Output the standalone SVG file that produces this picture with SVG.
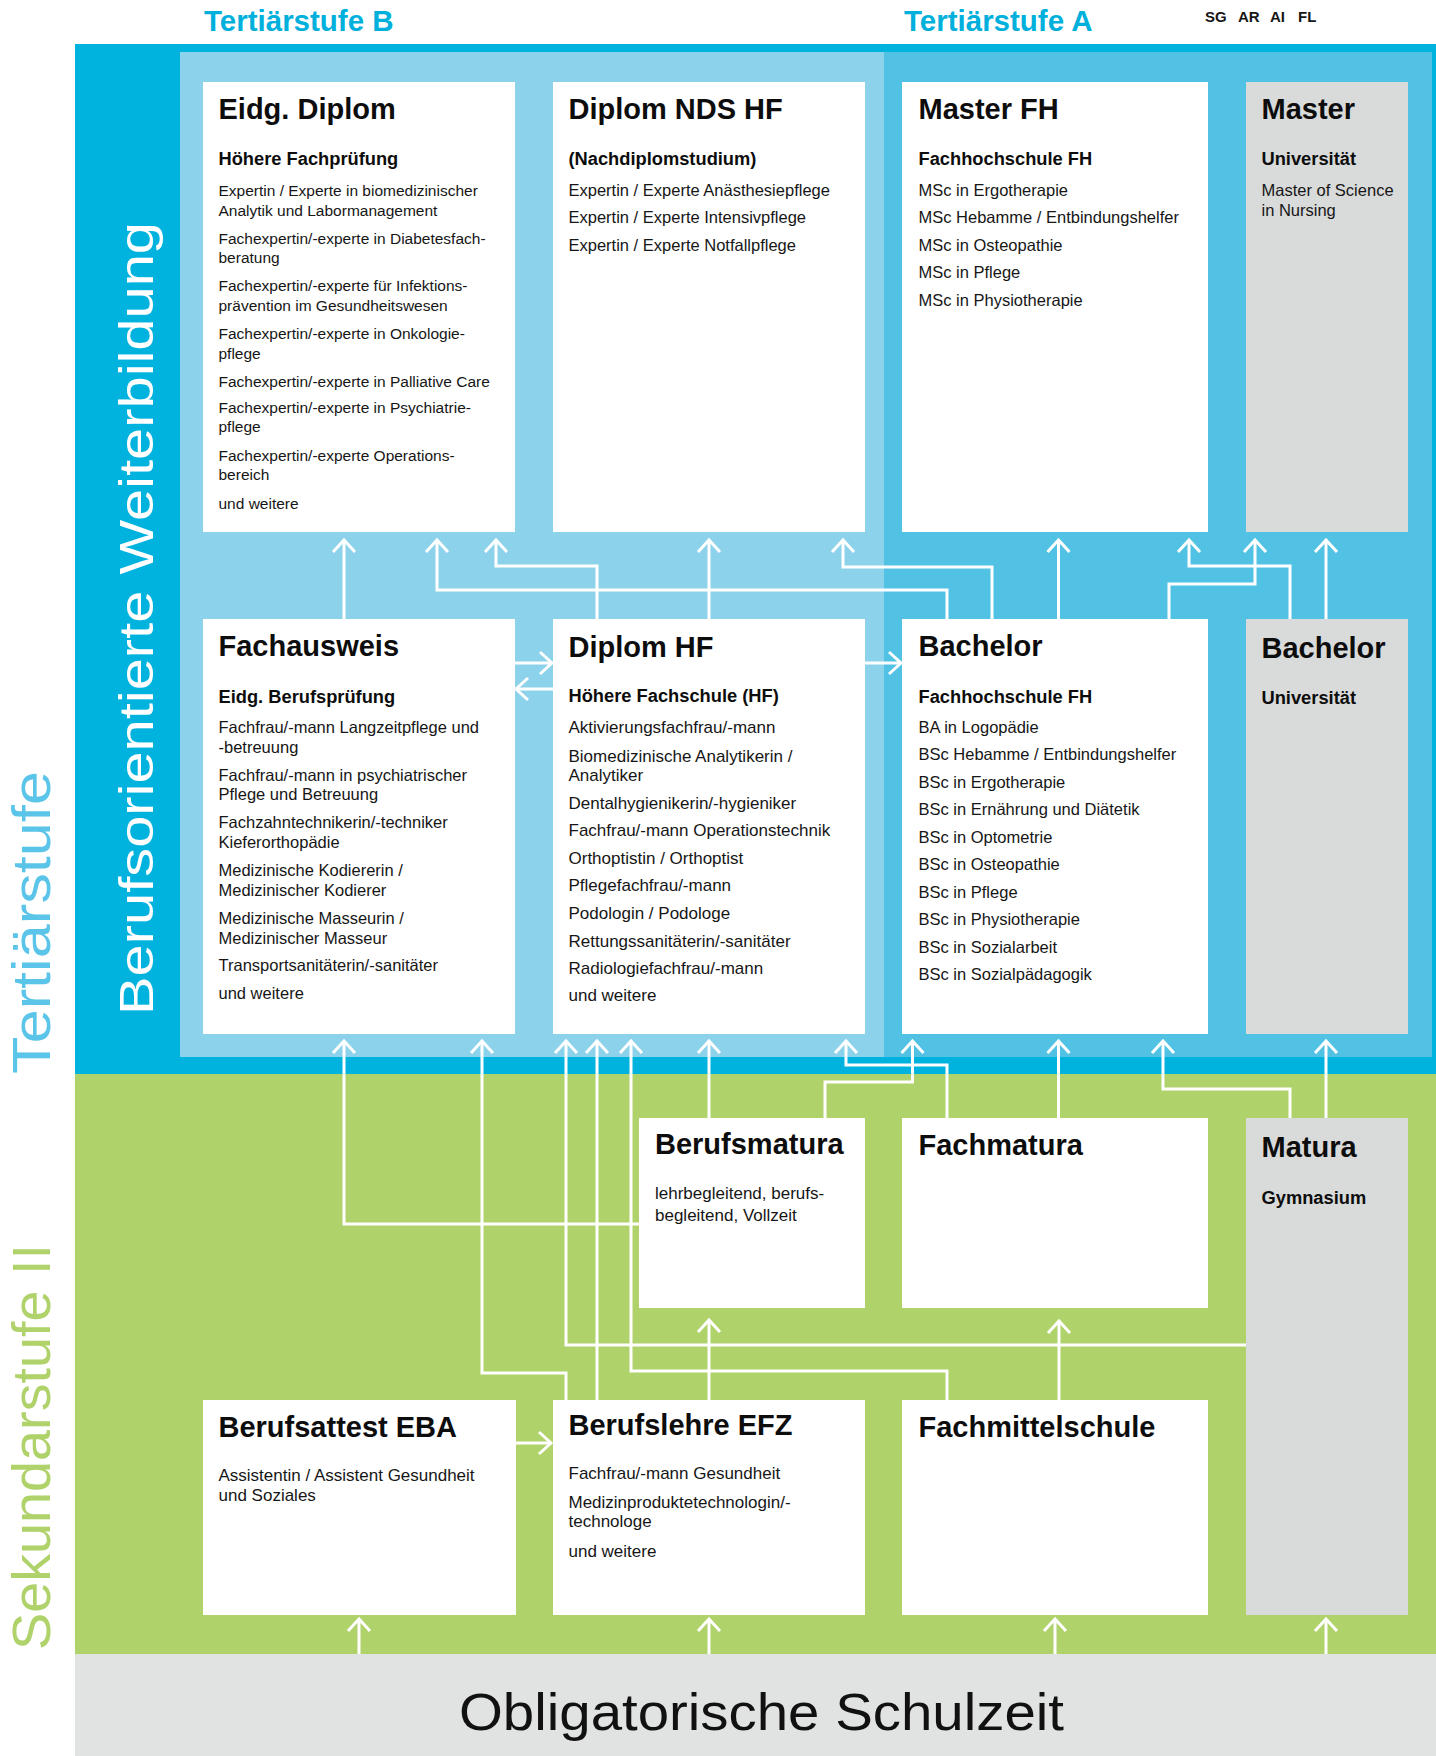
<svg xmlns="http://www.w3.org/2000/svg" width="1436" height="1756" viewBox="0 0 1436 1756">
<defs>
<style>
text{font-family:"Liberation Sans",Arial,sans-serif;fill:#161616}
.t{font-size:29px;font-weight:700;fill:#0d0d0d}
.s{font-size:18.3px;font-weight:700;fill:#0d0d0d}
.b{font-size:16.5px}
.b15{font-size:15.5px}
.b17{font-size:17px}
.box{fill:#ffffff}
.gbox{fill:#d9dada}
.hdr{font-size:29.5px;font-weight:700;fill:#00b0dc}
.c path{fill:none;stroke:#ffffff;stroke-width:3;marker-end:url(#ah)}
</style>
<marker id="ah" markerUnits="userSpaceOnUse" viewBox="-16 -14 22 28" refX="0" refY="0" markerWidth="22" markerHeight="28" orient="auto" overflow="visible">
<path d="M-12,-11 L0,0 L-12,11" fill="none" stroke="#ffffff" stroke-width="3"/>
</marker>
</defs>

<g id="bands">
<rect x="75" y="44" width="1361" height="1030" fill="#00b2de"/>
<rect x="180" y="52" width="704" height="1005" fill="#8dd2eb"/>
<rect x="884" y="52" width="548" height="1005" fill="#52c2e4"/>
<rect x="75" y="1074" width="1361" height="580" fill="#b0d26a"/>
<rect x="75" y="1654" width="1361" height="102" fill="#e1e3e2"/>
</g>

<g id="labels">
<text class="hdr" x="204" y="31">Tertiärstufe B</text>
<text class="hdr" x="904" y="31">Tertiärstufe A</text>
<text font-size="15" font-weight="700" y="22"><tspan x="1205">SG</tspan><tspan x="1238">AR</tspan><tspan x="1270">AI</tspan><tspan x="1298">FL</tspan></text>
<text transform="translate(50,1074) rotate(-90)" font-size="54" style="fill:#5bc5e9" textLength="303" lengthAdjust="spacingAndGlyphs">Tertiärstufe</text>
<text transform="translate(50,1650) rotate(-90)" font-size="54" style="fill:#b0d26a" textLength="406" lengthAdjust="spacingAndGlyphs">Sekundarstufe II</text>
<text transform="translate(153,1015) rotate(-90)" font-size="48" style="fill:#ffffff" textLength="793" lengthAdjust="spacingAndGlyphs">Berufsorientierte Weiterbildung</text>
<text x="761.5" y="1729.5" font-size="52" text-anchor="middle" textLength="605" lengthAdjust="spacingAndGlyphs" style="fill:#111">Obligatorische Schulzeit</text>
</g>

<g id="connectors" class="c">
<path d="M344,619 V540"/>
<path d="M947,619 V590 H437 V540"/>
<path d="M597,619 V566 H496 V540"/>
<path d="M709,619 V540"/>
<path d="M992,619 V567 H843 V540"/>
<path d="M1058.5,619 V540"/>
<path d="M1290,619 V566 H1189 V540"/>
<path d="M1169,619 V584 H1255 V540"/>
<path d="M1326,619 V540"/>
<path d="M515,663 H552"/>
<path d="M553,689 H516"/>
<path d="M865,663 H901"/>
<path d="M639,1224 H344 V1041"/>
<path d="M566,1400 V1373 H482 V1041"/>
<path d="M1246,1345 H566 V1041"/>
<path d="M597,1400 V1041"/>
<path d="M947,1400 V1371 H631 V1041"/>
<path d="M709,1118 V1041"/>
<path d="M947,1118 V1065 H846 V1041"/>
<path d="M825,1118 V1082 H912.5 V1041"/>
<path d="M1058.5,1118 V1041"/>
<path d="M1290,1118 V1089 H1163 V1041"/>
<path d="M1326,1118 V1041"/>
<path d="M709,1400 V1320"/>
<path d="M1059,1400 V1321"/>
<path d="M516,1443 H551"/>
<path d="M359,1654 V1619"/>
<path d="M709,1654 V1619"/>
<path d="M1055,1654 V1619"/>
<path d="M1326,1654 V1619"/>
</g>

<g id="eidg-diplom">
<rect class="box" x="203" y="82" width="312" height="450"/>
<text class="t" x="218.5" y="118.5" font-size="28">Eidg. Diplom</text>
<text class="s" x="218.5" y="165">Höhere Fachprüfung</text>
<text class="b15">
<tspan x="218.5" y="196">Expertin / Experte in biomedizinischer</tspan>
<tspan x="218.5" y="216">Analytik und Labormanagement</tspan>
<tspan x="218.5" y="243.5">Fachexpertin/-experte in Diabetesfach-</tspan>
<tspan x="218.5" y="263">beratung</tspan>
<tspan x="218.5" y="291">Fachexpertin/-experte für Infektions-</tspan>
<tspan x="218.5" y="310.5">prävention im Gesundheitswesen</tspan>
<tspan x="218.5" y="339">Fachexpertin/-experte in Onkologie-</tspan>
<tspan x="218.5" y="359">pflege</tspan>
<tspan x="218.5" y="386.5">Fachexpertin/-experte in Palliative Care</tspan>
<tspan x="218.5" y="412.5">Fachexpertin/-experte in Psychiatrie-</tspan>
<tspan x="218.5" y="432">pflege</tspan>
<tspan x="218.5" y="461">Fachexpertin/-experte Operations-</tspan>
<tspan x="218.5" y="480">bereich</tspan>
<tspan x="218.5" y="509">und weitere</tspan>
</text>
</g>

<g id="diplom-nds-hf">
<rect class="box" x="553" y="82" width="312" height="450"/>
<text class="t" x="568.5" y="118.5">Diplom NDS HF</text>
<text class="s" x="568.5" y="165">(Nachdiplomstudium)</text>
<text class="b">
<tspan x="568.5" y="196">Expertin / Experte Anästhesiepflege</tspan>
<tspan x="568.5" y="223">Expertin / Experte Intensivpflege</tspan>
<tspan x="568.5" y="250.5">Expertin / Experte Notfallpflege</tspan>
</text>
</g>

<g id="master-fh">
<rect class="box" x="902" y="82" width="306" height="450"/>
<text class="t" x="918.5" y="118.5">Master FH</text>
<text class="s" x="918.5" y="165">Fachhochschule FH</text>
<text class="b">
<tspan x="918.5" y="196">MSc in Ergotherapie</tspan>
<tspan x="918.5" y="223">MSc Hebamme / Entbindungshelfer</tspan>
<tspan x="918.5" y="250.5">MSc in Osteopathie</tspan>
<tspan x="918.5" y="278">MSc in Pflege</tspan>
<tspan x="918.5" y="305.5">MSc in Physiotherapie</tspan>
</text>
</g>

<g id="master-uni">
<rect class="gbox" x="1246" y="82" width="162" height="450"/>
<text class="t" x="1261.5" y="118.5">Master</text>
<text class="s" x="1261.5" y="165">Universität</text>
<text class="b">
<tspan x="1261.5" y="196">Master of Science</tspan>
<tspan x="1261.5" y="216">in Nursing</tspan>
</text>
</g>

<g id="fachausweis">
<rect class="box" x="203" y="619" width="312" height="415"/>
<text class="t" x="218.5" y="656">Fachausweis</text>
<text class="s" x="218.5" y="702.5">Eidg. Berufsprüfung</text>
<text class="b">
<tspan x="218.5" y="733">Fachfrau/-mann Langzeitpflege und</tspan>
<tspan x="218.5" y="752.5">-betreuung</tspan>
<tspan x="218.5" y="780.5">Fachfrau/-mann in psychiatrischer</tspan>
<tspan x="218.5" y="800">Pflege und Betreuung</tspan>
<tspan x="218.5" y="827.5">Fachzahntechnikerin/-techniker</tspan>
<tspan x="218.5" y="847.5">Kieferorthopädie</tspan>
<tspan x="218.5" y="875.5">Medizinische Kodiererin /</tspan>
<tspan x="218.5" y="895.5">Medizinischer Kodierer</tspan>
<tspan x="218.5" y="923.5">Medizinische Masseurin /</tspan>
<tspan x="218.5" y="943.5">Medizinischer Masseur</tspan>
<tspan x="218.5" y="970.5">Transportsanitäterin/-sanitäter</tspan>
<tspan x="218.5" y="998.5">und weitere</tspan>
</text>
</g>

<g id="diplom-hf">
<rect class="box" x="553" y="619" width="312" height="415"/>
<text class="t" x="568.5" y="656.5">Diplom HF</text>
<text class="s" x="568.5" y="701.5">Höhere Fachschule (HF)</text>
<text class="b17">
<tspan x="568.5" y="733">Aktivierungsfachfrau/-mann</tspan>
<tspan x="568.5" y="761.5">Biomedizinische Analytikerin /</tspan>
<tspan x="568.5" y="781">Analytiker</tspan>
<tspan x="568.5" y="808.5">Dentalhygienikerin/-hygieniker</tspan>
<tspan x="568.5" y="836">Fachfrau/-mann Operationstechnik</tspan>
<tspan x="568.5" y="864">Orthoptistin / Orthoptist</tspan>
<tspan x="568.5" y="891">Pflegefachfrau/-mann</tspan>
<tspan x="568.5" y="919">Podologin / Podologe</tspan>
<tspan x="568.5" y="946.5">Rettungssanitäterin/-sanitäter</tspan>
<tspan x="568.5" y="974">Radiologiefachfrau/-mann</tspan>
<tspan x="568.5" y="1001">und weitere</tspan>
</text>
</g>

<g id="bachelor-fh">
<rect class="box" x="902" y="619" width="306" height="415"/>
<text class="t" x="918.5" y="656">Bachelor</text>
<text class="s" x="918.5" y="702.5">Fachhochschule FH</text>
<text class="b">
<tspan x="918.5" y="732.5">BA in Logopädie</tspan>
<tspan x="918.5" y="760">BSc Hebamme / Entbindungshelfer</tspan>
<tspan x="918.5" y="787.5">BSc in Ergotherapie</tspan>
<tspan x="918.5" y="815">BSc in Ernährung und Diätetik</tspan>
<tspan x="918.5" y="843">BSc in Optometrie</tspan>
<tspan x="918.5" y="870">BSc in Osteopathie</tspan>
<tspan x="918.5" y="898">BSc in Pflege</tspan>
<tspan x="918.5" y="925">BSc in Physiotherapie</tspan>
<tspan x="918.5" y="953">BSc in Sozialarbeit</tspan>
<tspan x="918.5" y="980">BSc in Sozialpädagogik</tspan>
</text>
</g>

<g id="bachelor-uni">
<rect class="gbox" x="1246" y="619" width="162" height="415"/>
<text class="t" x="1261.5" y="658">Bachelor</text>
<text class="s" x="1261.5" y="704">Universität</text>
</g>

<g id="berufsmatura">
<rect class="box" x="639" y="1118" width="226" height="190"/>
<text class="t" x="655" y="1154">Berufsmatura</text>
<text class="b17">
<tspan x="655" y="1198.5">lehrbegleitend, berufs-</tspan>
<tspan x="655" y="1221">begleitend, Vollzeit</tspan>
</text>
</g>

<g id="fachmatura">
<rect class="box" x="902" y="1118" width="306" height="190"/>
<text class="t" x="918.5" y="1154.5">Fachmatura</text>
</g>

<g id="matura">
<rect class="gbox" x="1246" y="1118" width="162" height="497"/>
<text class="t" x="1261.5" y="1157">Matura</text>
<text class="s" x="1261.5" y="1203.5">Gymnasium</text>
</g>

<g id="berufsattest-eba">
<rect class="box" x="203" y="1400" width="313" height="215"/>
<text class="t" x="218.5" y="1437">Berufsattest EBA</text>
<text class="b17">
<tspan x="218.5" y="1481">Assistentin / Assistent Gesundheit</tspan>
<tspan x="218.5" y="1501">und Soziales</tspan>
</text>
</g>

<g id="berufslehre-efz">
<rect class="box" x="553" y="1400" width="312" height="215"/>
<text class="t" x="568.5" y="1435">Berufslehre EFZ</text>
<text class="b17">
<tspan x="568.5" y="1479">Fachfrau/-mann Gesundheit</tspan>
<tspan x="568.5" y="1507.5">Medizinproduktetechnologin/-</tspan>
<tspan x="568.5" y="1527">technologe</tspan>
<tspan x="568.5" y="1557">und weitere</tspan>
</text>
</g>

<g id="fachmittelschule">
<rect class="box" x="902" y="1400" width="306" height="215"/>
<text class="t" x="918.5" y="1437">Fachmittelschule</text>
</g>
</svg>
